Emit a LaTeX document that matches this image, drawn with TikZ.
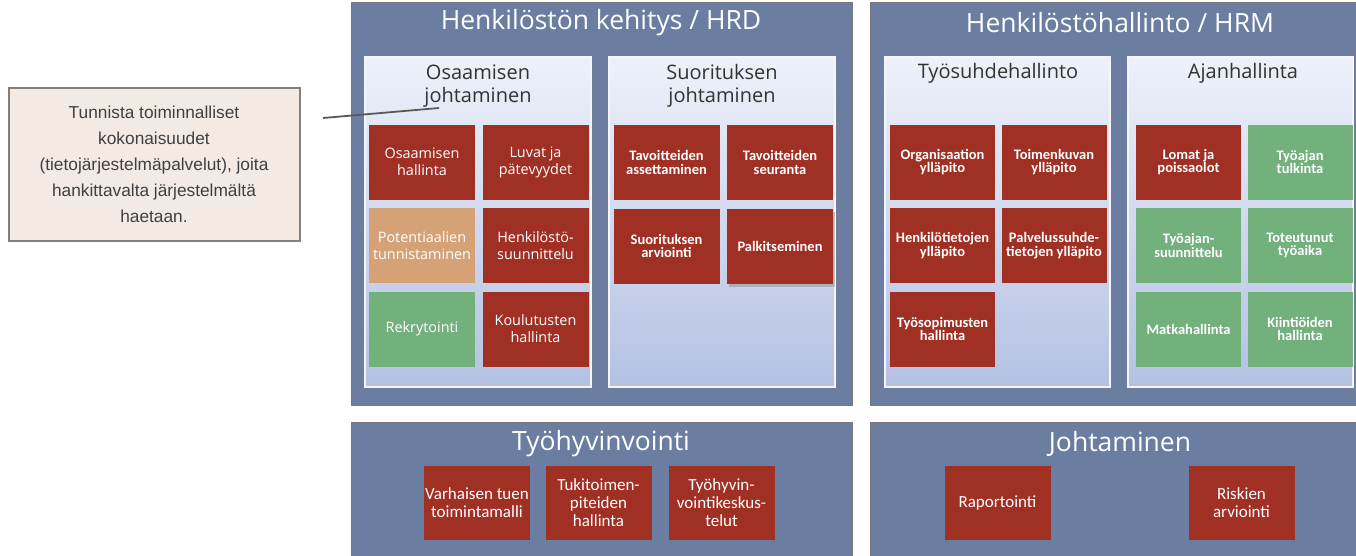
\documentclass[tikz,border=0pt]{standalone}
\usepackage{fontspec}
\setmainfont{Open Sans}
\newfontfamily\calfont{Carlito}
\newfontfamily\notefont{Liberation Sans}
\usepackage{tikz}
\usetikzlibrary{positioning,shadows}

\definecolor{areablue}{RGB}{107,125,160}
\definecolor{areaedge}{RGB}{120,120,120}
\definecolor{paneltop}{RGB}{238,241,250}
\definecolor{panelbot}{RGB}{180,193,227}
\definecolor{boxred}{RGB}{160,47,36}
\definecolor{boxgreen}{RGB}{114,176,124}
\definecolor{boxtan}{RGB}{212,162,118}
\definecolor{notefill}{RGB}{243,235,227}
\definecolor{notetext}{RGB}{64,64,64}

\begin{document}
\begin{tikzpicture}[x=1pt,y=-1pt,every node/.style={outer sep=0pt}]
\tikzstyle{area}=[draw=areaedge,fill=areablue,line width=0.8pt,anchor=north west]
\tikzstyle{bigtitle}=[text=white,font=\fontsize{26.5}{30}\selectfont]
\tikzstyle{panel}=[draw=white!85!panelbot,line width=1.2pt,top color=paneltop,
bottom color=panelbot,minimum width=226pt,minimum height=330pt,
drop shadow={opacity=0.35,shadow xshift=2pt,shadow yshift=-3pt}]
\tikzstyle{paneltitle}=[text=black!80,align=center,font=\fontsize{20}{23.5}\selectfont]
\tikzstyle{fbox}=[minimum width=106pt,minimum height=75pt,inner sep=1pt,
align=center,text=white]
\tikzstyle{redbox}=[fbox,fill=boxred,font=\fontsize{14.4}{17}\selectfont]
\tikzstyle{boldbox}=[fbox,fill=boxred,font=\calfont\bfseries\fontsize{14.5}{13.5}\selectfont]
\tikzstyle{boldgreen}=[boldbox,fill=boxgreen]
\tikzstyle{lowbox}=[fbox,fill=boxred,minimum height=74pt,font=\calfont\fontsize{17}{18}\selectfont]
\tikzstyle{notebox}=[draw=black!50,line width=2pt,fill=notefill,text=notetext,
minimum width=291pt,minimum height=153pt,align=center,
font=\notefont\fontsize{17.3}{26}\selectfont]
\tikzstyle{callline}=[draw=black!65,line width=1.8pt]

\clip (0,0) rectangle (1356,555);
%
% upper areas
\node (hrd) [area,minimum width=501pt,minimum height=403pt] at (351,2) {};
\node (hrm) [area,minimum width=500pt,minimum height=403pt] at (870,2) {};
\node (hrdtitle) [bigtitle] at (601,23) {Henkilöstön kehitys / HRD};
\node (hrmtitle) [bigtitle] at (1120,23) {Henkilöstöhallinto / HRM};
%
\node (osj) [panel] at (478,222) {};
\node (suj) [panel] at (722,222) {};
\node (tsh) [panel,minimum width=225pt] at (997.5,222) {};
\node (ajh) [panel,minimum width=225pt] at (1240.5,222) {};
\node (osjtitle) [paneltitle] at (478,86) {Osaamisen\\johtaminen};
\node (sujtitle) [paneltitle] at (722,86) {Suorituksen\\johtaminen};
\node (tshtitle) [paneltitle] at (998,73) {Työsuhdehallinto};
\node (ajhtitle) [paneltitle] at (1243,73) {Ajanhallinta};
%
% Osaamisen johtaminen
\node (oha) [redbox] at (422,162) {Osaamisen\\hallinta};
\node (lpa) [redbox,right=7.5pt of oha] {Luvat ja\\pätevyydet};
\node (pot) [redbox,fill=boxtan,below=8.5pt of oha] {Potentiaalien\\tunnistaminen};
\node (hsu) [redbox,below=8.5pt of lpa] {Henkilöstö-\\suunnittelu};
\node (rek) [redbox,fill=boxgreen,below=8.5pt of pot] {Rekrytointi};
\node (kou) [redbox,below=8.5pt of hsu] {Koulutusten\\hallinta};
%
% Suorituksen johtaminen
\node (tas) [boldbox] at (666.5,162.5) {Tavoitteiden\\assettaminen};
\node (tse) [boldbox,right=7.5pt of tas] {Tavoitteiden\\seuranta};
\node (sar) [boldbox,below=8.5pt of tas] {Suorituksen\\arviointi};
\node (pal) [boldbox,below=8.5pt of tse,
drop shadow={opacity=0.4,shadow xshift=2pt,shadow yshift=-3pt}] {Palkitseminen};
%
% Työsuhdehallinto
\node (oyl) [boldbox,minimum width=105pt] at (942.5,162) {Organisaation\\ylläpito};
\node (tyl) [boldbox,minimum width=105pt,right=6.5pt of oyl] {Toimenkuvan\\ylläpito};
\node (hyl) [boldbox,minimum width=105pt,below=8.5pt of oyl] {Henkilötietojen\\ylläpito};
\node (pyl) [boldbox,minimum width=105pt,below=8.5pt of tyl] {Palvelussuhde-\\tietojen ylläpito};
\node (tyh) [boldbox,minimum width=105pt,below=8.5pt of hyl] {Työsopimusten\\hallinta};
%
% Ajanhallinta
\node (lom) [boldbox,minimum width=105pt] at (1188.5,162) {Lomat ja\\poissaolot};
\node (ttu) [boldgreen,minimum width=105pt,right=6.5pt of lom] {Työajan\\tulkinta};
\node (tsu) [boldgreen,minimum width=105pt,below=8.5pt of lom] {Työajan-\\suunnittelu};
\node (tot) [boldgreen,minimum width=105pt,below=8.5pt of ttu] {Toteutunut\\työaika};
\node (mat) [boldgreen,minimum width=105pt,below=8.5pt of tsu] {Matkahallinta};
\node (kii) [boldgreen,minimum width=105pt,below=8.5pt of tot] {Kiintiöiden\\hallinta};
%
% lower areas
\node (thv) [area,minimum width=501pt,minimum height=150pt] at (351,422) {};
\node (joh) [area,minimum width=500pt,minimum height=150pt] at (870,422) {};
\node (thvtitle) [bigtitle] at (601,444) {Työhyvinvointi};
\node (johtitle) [bigtitle] at (1120,444) {Johtaminen};
\node (var) [lowbox] at (477,503) {Varhaisen tuen\\toimintamalli};
\node (tuk) [lowbox] at (598.5,503) {Tukitoimen-\\piteiden\\hallinta};
\node (tyk) [lowbox] at (721.5,503) {Työhyvin-\\vointikeskus-\\telut};
\node (rap) [lowbox] at (997.5,503) {Raportointi};
\node (ris) [lowbox] at (1241.5,503) {Riskien\\arviointi};
%
% callout
\node (note) [notebox] at (154,164.5) {Tunnista toiminnalliset\\kokonaisuudet\\(tietojärjestelmäpalvelut), joita\\hankittavalta järjestelmältä\\haetaan.};
\coordinate (calltail) at (323,118);
\coordinate (calltip) at (439,108);
\draw [callline] (calltail) -- (calltip);
\end{tikzpicture}
\end{document}
